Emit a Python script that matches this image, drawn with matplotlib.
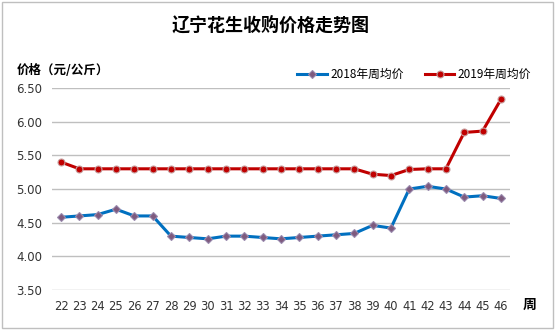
import matplotlib
matplotlib.use('Agg')
import matplotlib.pyplot as plt
from matplotlib.patches import Rectangle

plt.rcParams['font.family'] = ['Noto Sans CJK SC', 'DejaVu Sans']

weeks = list(range(22, 47))
price_2018 = [4.58, 4.60, 4.62, 4.70, 4.60, 4.60, 4.30, 4.28, 4.26, 4.30, 4.30, 4.28, 4.26,
              4.28, 4.30, 4.32, 4.34, 4.46, 4.42, 5.00, 5.04, 5.00, 4.88, 4.90, 4.86]
price_2019 = [5.40, 5.30, 5.30, 5.30, 5.30, 5.30, 5.30, 5.30, 5.30, 5.30, 5.30, 5.30, 5.30,
              5.30, 5.30, 5.30, 5.30, 5.22, 5.20, 5.29, 5.30, 5.30, 5.84, 5.86, 6.33]
yticks = [3.50, 4.00, 4.50, 5.00, 5.50, 6.00, 6.50]

fig = plt.figure(figsize=(5.55, 3.3), dpi=100)
ax = fig.add_axes([0.0934, 0.1212, 0.8256, 0.6121])

ax.plot(weeks, price_2018, color='#0070C0', lw=2.2, marker='D', ms=4.5,
        mfc='#7E5A7E', mec='#9A8AAE', mew=0.8, label='2018年周均价')
ax.plot(weeks, price_2019, color='#C00000', lw=2.2, marker='o', ms=5,
        mfc='#C00000', mec='#C8A0A0', mew=0.8, label='2019年周均价')

ax.set_xlim(21.5, 46.5)
ax.set_ylim(3.5, 6.5)
ax.set_yticks(yticks)
ax.set_yticklabels(['%.2f' % v for v in yticks], fontsize=8.5, family='DejaVu Sans')
ax.set_xticks(weeks)
ax.set_xticklabels([str(w) for w in weeks], fontsize=8.3, family='DejaVu Sans')
ax.tick_params(length=0, pad=7, colors='#333333')
ax.tick_params(axis='y', pad=7)
for s in ax.spines.values():
    s.set_visible(False)
ax.grid(axis='y', color='#BFBFBF', lw=1)
ax.set_axisbelow(True)

leg = ax.legend(loc='lower left', bbox_to_anchor=(0.52, 1.0), ncol=2, frameon=False,
                fontsize=8.5, handlelength=2.5, handletextpad=0.3, columnspacing=1.8,
                borderaxespad=0.2)

fig.text(0.488, 0.925, '辽宁花生收购价格走势图', ha='center', va='center',
         fontsize=13, fontweight='bold')
fig.text(0.03, 0.785, '价格（元/公斤）', ha='left', va='center', fontsize=9, fontweight='bold')
fig.text(0.955, 0.075, '周', ha='center', va='center', fontsize=10, fontweight='bold')

fig.patches.append(Rectangle((0.003, 0.006), 0.993, 0.988, transform=fig.transFigure,
                             fill=False, edgecolor='#BFBFBF', lw=1))

fig.savefig('out.png', dpi=100)
